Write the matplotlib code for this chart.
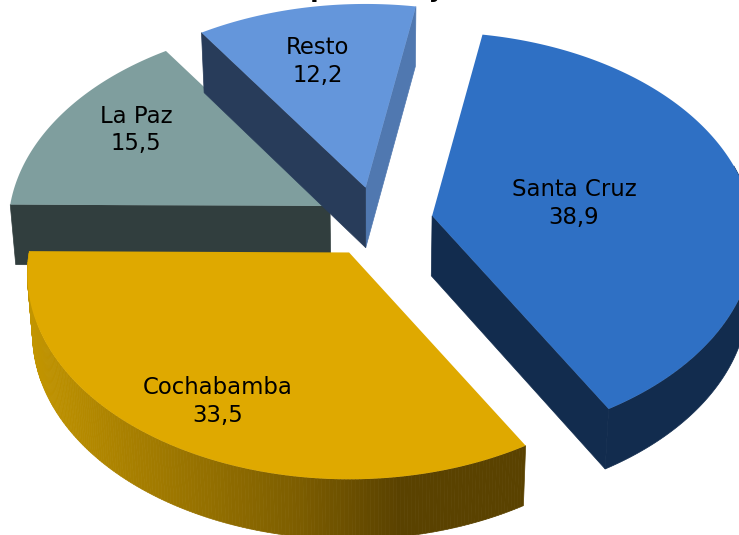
import numpy as np
import matplotlib
matplotlib.use("Agg")
import matplotlib.pyplot as plt
from matplotlib.colors import LinearSegmentedColormap

categories = ["Santa Cruz", "Cochabamba", "La Paz", "Resto"]
values = [38.9, 33.5, 15.5, 12.2]
value_labels = ["38,9", "33,5", "15,5", "12,2"]
title = "(en porcentaje)"

# look of the pie, in pixels
cx, cy = 377, 222
rx, ry = 320, 203
persp = 0.105
depth = 60
shrink = 0.015
start_angle = 80
explode = [57, 50.5, 56, 61]
label_off = [(142, -12), (-131, 149), (-194, -76), (-48, -126)]
top_colors = ["#2F70C4", "#DFA900", "#7F9E9E", "#6496DB"]
wall_colors = ["#122C4E", None, "#313E3E", "#283C5A"]
side_color = "#5078B0"
gold = LinearSegmentedColormap.from_list("gold", [(0, "#C29500"), (0.2, "#A98000"), (0.55, "#7C5D00"), (0.75, "#5A4200"), (1, "#5A4200")])


def rim(t):
    t = np.radians(t)
    w = 1 + persp * np.sin(t)
    return rx * np.cos(t) / w, -ry * np.sin(t) / w


def lower(x, y):
    return x + (cx - x) * shrink, y + depth


def wall(ax, x, y, color, z):
    bx, by = lower(x, y)
    ax.fill(np.r_[x, bx[::-1]], np.r_[y, by[::-1]], color=color, lw=0.5, zorder=z)


fig = plt.figure(figsize=(7.39, 5.35), dpi=100)
ax = fig.add_axes([0, 0, 1, 1])
ax.set_xlim(0, 739)
ax.set_ylim(535, 0)
ax.axis("off")

# angles come from the shares, clockwise
total = sum(values)
spans = [v / total * 360 for v in values]
ends = start_angle - np.cumsum(spans)
starts = ends + np.array(spans)
draw_order = {0: 1, 2: 2, 3: 3, 1: 4}

for i, name in enumerate(categories):
    mid = (starts[i] + ends[i]) / 2
    dx, dy = rim(mid)
    ox = cx + explode[i] * dx / rx
    oy = cy + explode[i] * dy / rx
    t = np.linspace(starts[i], ends[i], 200)
    x, y = rim(t)
    x = x + ox
    y = y + oy
    z = draw_order[i] * 10

    if i == 0:
        wall(ax, np.array([ox, x[-1]]), np.array([oy, y[-1]]), wall_colors[i], z)
        keep = t < 15
        wall(ax, x[keep], y[keep], wall_colors[i], z)
    elif i == 1:
        # outer rim, light fades left to right
        for k in range(len(t) - 1):
            shade = gold((x[k] - x.min()) / (x.max() - x.min()))
            wall(ax, x[k:k + 2], y[k:k + 2], shade, z)
    elif i == 2:
        wall(ax, np.array([x[0], ox]), np.array([y[0], oy]), wall_colors[i], z)
    else:
        wall(ax, np.array([ox, x[-1]]), np.array([oy, y[-1]]), side_color, z)
        wall(ax, np.array([x[0], ox]), np.array([y[0], oy]), wall_colors[i], z)

    ax.fill(np.r_[ox, x], np.r_[oy, y], color=top_colors[i], lw=0, zorder=z + 1)
    ax.text(ox + label_off[i][0], oy + label_off[i][1],
            name + "\n" + value_labels[i], ha="center", va="center",
            fontsize=16.4, color="black", linespacing=1.27, zorder=60)

ax.text(362, -2.5, title, ha="center", va="baseline", fontsize=17.5, fontweight="bold", zorder=60)
fig.savefig("out.png", dpi=100)
